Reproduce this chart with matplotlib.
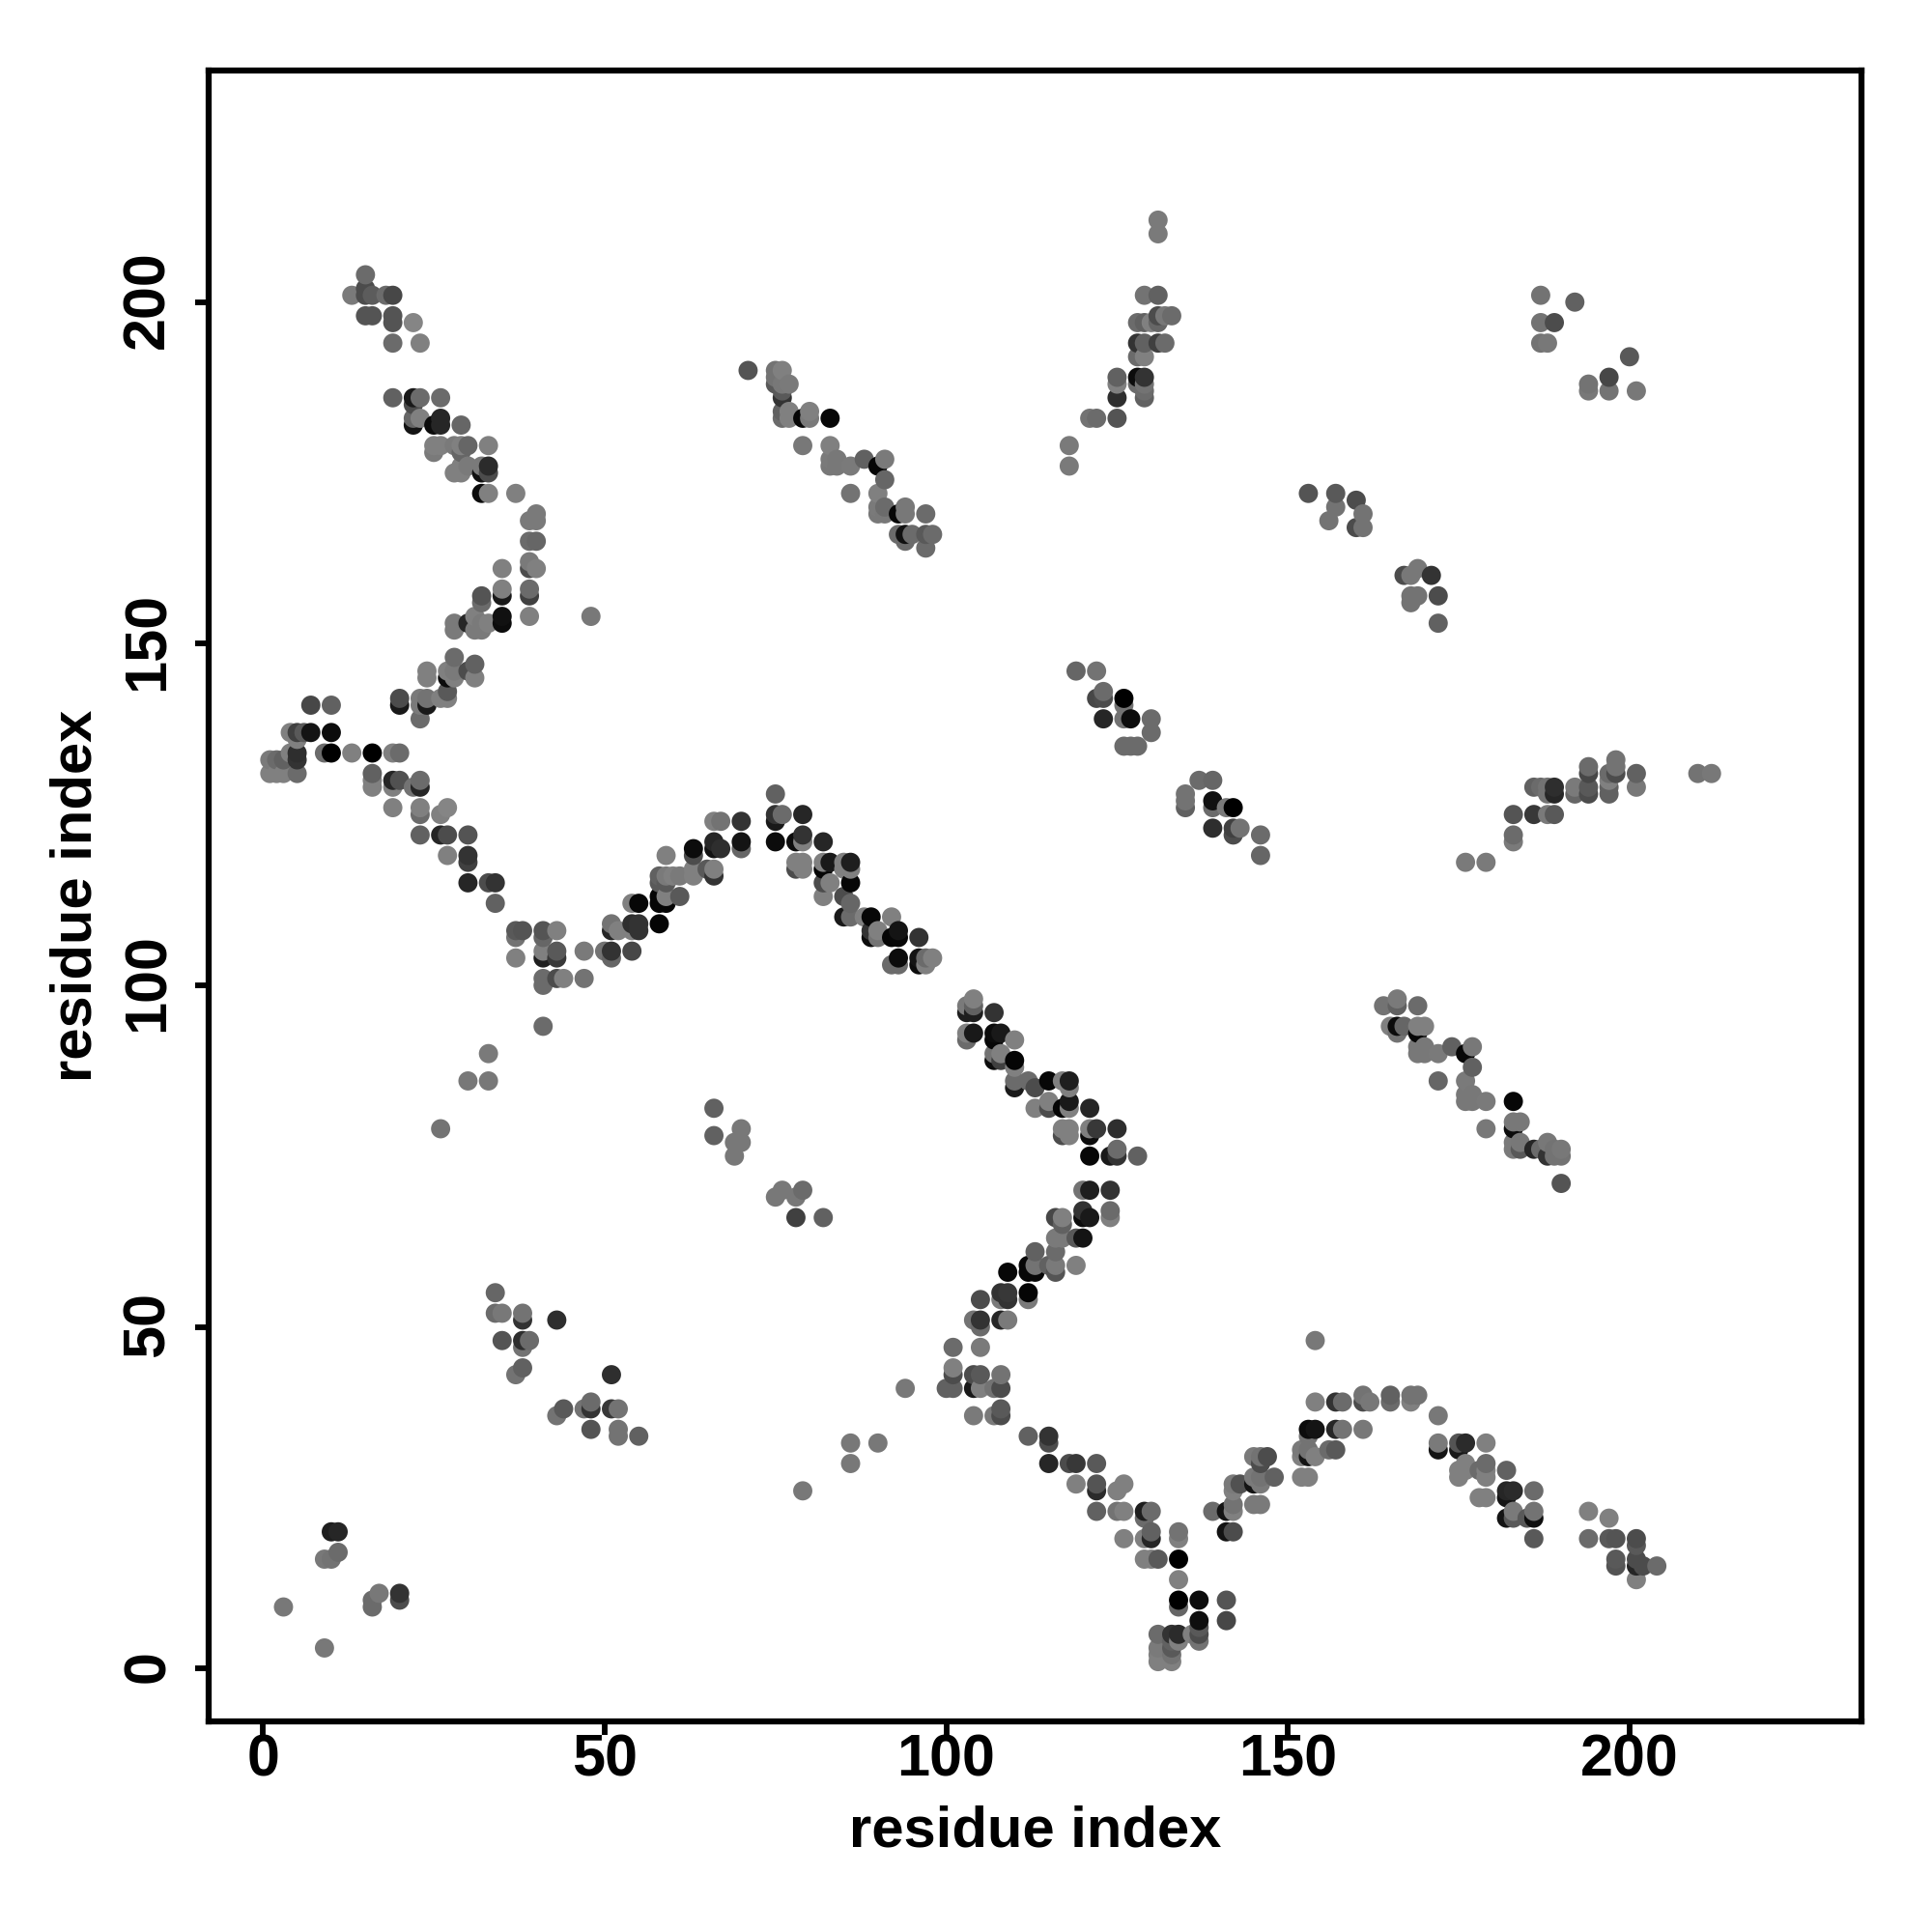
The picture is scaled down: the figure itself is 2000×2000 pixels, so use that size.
import numpy as np
import matplotlib
matplotlib.use("Agg")
import matplotlib.pyplot as plt
from matplotlib.transforms import ScaledTranslation

# (residue x, residue y, grey level), one list per stretch
arm_top_left = [
    (15,204,.42),(13,201,.48),(15,201,.3),(15,202,.3),(16,201,.36),(18,201,.42),(19,201,.28),
    (15,198,.33),(16,198,.33),(19,198,.33),(19,197,.33),(22,197,.52),(19,194,.42),(23,194,.5),
    (19,186,.38),(22,186,.1),(23,186,.42),(26,186,.42),(22,185,.3),(22,183,.4),(23,183,.5),
    (22,182,.08),(25,182,.05),(26,183,.15),(26,182,.15),(29,182,.4),(25,179,.5),(26,179,.5),
    (28,179,.48),(29,179,.5),(30,179,.4),(33,179,.5),(25,178,.48),(29,178,.4),(30,176,.48),
    (29,176,.5),(32,176,.48),(33,176,.17),(28,175,.5),(29,175,.5),(32,175,.07),(33,175,.3),
    (32,172,.05),(33,172,.5),(37,172,.5),(40,169,.48),(39,168,.48),(40,168,.48),(39,165,.42),
    (40,165,.4),(39,162,.48),(35,161,.5),(39,161,.3),(40,161,.5),(35,158,.5),(39,158,.42),
    (35,157,.1),(39,157,.25),(32,157,.33),(32,156,.42),(31,154,.5),(35,154,.07),(39,154,.5),
    (35,153,.05),(30,153,.15),(33,153,.5),(32,153,.48),(28,153,.48),(28,152,.48),(31,152,.48),
    (32,152,.48),(48,154,.47),
]
arm_left = [
    (28,148,.42),(31,147,.38),(30,146,.3),(31,145,.5),(24,146,.5),(24,145,.5),(27,146,.5),
    (28,146,.48),(28,145,.5),(27,145,.05),(20,142,.3),(20,141,.1),(23,142,.48),(24,142,.45),
    (24,141,.1),(23,141,.48),(23,139,.42),(26,142,.5),(27,142,.5),(27,143,.35),(7,141,.28),
    (10,141,.38),(4,137,.5),(5,137,.25),(6,137,.35),(7,137,.08),(10,137,.05),(5,136,.5),
    (4,134,.5),(5,134,.18),(9,134,.42),(10,134,.0),(13,134,.5),(16,134,.0),(19,134,.5),
    (20,134,.42),(1,133,.48),(2,133,.42),(3,133,.38),(5,133,.2),(1,131,.5),(2,131,.5),
    (3,131,.5),(5,131,.42),(16,131,.38),(16,130,.5),(16,129,.5),(19,130,.15),(20,130,.32),
    (19,129,.5),(22,129,.45),(23,129,.15),(23,130,.42),(19,126,.5),(23,126,.5),(23,125,.42),
    (27,126,.52),(26,125,.5),(23,122,.38),(26,122,.15),(27,122,.3),(30,122,.33),(27,119,.5),
    (30,119,.2),(30,118,.25),(30,115,.15),(33,115,.3),(34,115,.2),(34,112,.38),
]
arm_middle = [
    (37,108,.35),(38,108,.33),(41,108,.33),(43,108,.5),(37,107,.45),(41,107,.4),(37,104,.5),
    (41,104,.12),(43,104,.22),(41,105,.5),(43,105,.35),(47,105,.48),(50,105,.45),(51,105,.2),
    (54,105,.28),(51,104,.4),(41,101,.42),(43,101,.3),(44,101,.5),(47,101,.45),(41,100,.42),
    (51,109,.45),(52,108,.5),(51,108,.15),(54,109,.18),(55,109,.2),(55,108,.2),(54,108,.5),
    (54,112,.5),(55,112,.03),(58,112,.02),(58,109,.02),(58,113,.02),(59,112,.02),(59,113,.5),
    (61,113,.35),(58,116,.38),(59,116,.48),(60,116,.5),(61,116,.48),(59,115,.35),(63,117,.5),
    (63,116,.5),(59,119,.5),(63,120,.05),(63,119,.3),(66,121,.15),(66,120,.07),(67,120,.18),
    (70,121,.08),(70,120,.4),(66,124,.5),(67,124,.45),(70,124,.2),(65,117,.35),(66,117,.5),
    (66,116,.2),(58,115,.35),
    (75,128,.38),(75,125,.2),(75,124,.1),(76,125,.42),(79,125,.15),(75,121,.05),(78,121,.05),
    (79,122,.2),(79,121,.5),(82,121,.15),(78,118,.5),(79,118,.5),(82,118,.5),(83,118,.1),
    (85,118,.5),(86,118,.12),(78,117,.3),(79,117,.5),(82,117,.02),(85,117,.5),(86,117,.5),
    (82,115,.3),(83,115,.5),(86,115,.03),(82,113,.5),(85,113,.3),(86,112,.4),(85,110,.1),
    (86,110,.42),(88,110,.5),(89,110,.03),(92,110,.5),(89,108,.2),(90,108,.5),(93,108,.08),
    (89,107,.05),(90,107,.45),(92,107,.02),(93,107,.03),(96,107,.2),(93,104,.05),(96,104,.08),
    (97,104,.42),(98,104,.5),(92,103,.42),(93,103,.42),(96,103,.05),(97,103,.5),
]
arm_centre = [
    (104,98,.5),(104,97,.38),(103,97,.48),(104,96,.12),(103,96,.12),(107,96,.2),(103,93,.5),
    (104,93,.1),(107,93,.05),(108,93,.1),(103,92,.42),(107,92,.03),(110,92,.5),(107,90,.45),
    (108,90,.5),(107,89,.05),(108,89,.25),(110,89,.02),(110,88,.5),(110,86,.42),(112,86,.42),
    (115,86,.03),(117,86,.5),(118,86,.12),(110,85,.1),(113,85,.3),(118,85,.5),(115,83,.5),
    (118,83,.1),(113,82,.5),(115,82,.3),(117,82,.02),(118,82,.5),(121,82,.15),(117,79,.5),
    (118,79,.5),(121,79,.5),(122,79,.22),(125,79,.18),(117,78,.3),(118,78,.5),(121,78,.05),
    (121,75,.03),(124,75,.1),(125,75,.2),(128,75,.38),(125,76,.42),
    (120,70,.45),(121,70,.12),(124,70,.2),(120,67,.2),(124,67,.42),(120,66,.05),(121,66,.1),
    (124,66,.5),(116,66,.28),(117,66,.5),(117,65,.38),(116,63,.48),(117,63,.48),(119,63,.35),
    (120,63,.08),(113,61,.38),(116,61,.42),(113,59,.45),(116,59,.48),(115,59,.38),(119,59,.5),
    (112,59,.03),(109,58,.03),(112,58,.03),(113,58,.03),(116,58,.33),(108,55,.2),(109,55,.22),
    (112,55,.02),(105,54,.3),(108,54,.48),(109,54,.2),(112,54,.48),(104,51,.45),(105,51,.2),
    (108,51,.15),(109,51,.48),(105,50,.42),(101,47,.42),(105,47,.48),(101,44,.5),(101,43,.3),
    (104,43,.3),(105,43,.35),(108,43,.45),(100,41,.38),(101,41,.38),(104,41,.1),(105,41,.5),
    (107,41,.45),(108,41,.3),(104,37,.48),(107,37,.48),(108,37,.3),(108,38,.35),
]
arm_bottom = [
    (112,34,.38),(115,34,.2),(115,33,.3),(115,30,.15),(118,30,.3),(119,30,.22),(122,30,.35),
    (119,27,.5),(122,27,.33),(126,27,.5),(122,26,.17),(125,26,.5),(122,23,.38),(125,23,.45),
    (126,23,.5),(129,23,.12),(130,23,.42),(129,22,.42),(130,20,.38),(134,20,.45),(126,19,.5),
    (129,19,.5),(130,19,.15),(134,19,.5),(129,16,.5),(130,16,.5),(131,16,.35),(134,16,.0),
    (134,13,.5),(134,10,.0),(137,10,.05),(141,10,.33),(134,9,.4),(137,7,.06),(141,7,.28),
    (137,6,.35),(131,5,.42),(133,5,.2),(134,5,.17),(136,5,.5),(137,5,.3),(133,4,.38),(134,4,.5),
    (137,4,.45),(131,3,.48),(133,3,.35),(131,2,.5),(133,2,.45),(131,1,.5),(133,1,.5),
    (139,23,.42),(141,23,.08),(142,23,.5),(142,24,.45),(142,27,.48),(143,27,.32),(142,26,.5),
    (141,20,.08),(142,20,.3),(145,31,.48),(146,31,.45),(147,31,.3),(146,30,.3),(145,28,.48),
    (146,28,.45),(148,28,.38),(145,27,.08),(146,27,.48),(145,24,.48),(146,24,.48),
    (154,39,.5),(157,39,.2),(158,39,.42),(161,40,.45),(161,39,.3),(162,39,.47),(165,40,.38),
    (165,39,.42),(168,40,.45),(169,40,.45),(168,39,.5),(153,35,.05),(154,35,.08),(157,35,.15),
    (158,35,.45),(161,35,.47),(153,34,.45),(152,32,.48),(153,32,.45),(152,31,.5),(153,31,.08),
    (154,31,.5),(156,32,.42),(157,32,.35),(152,28,.5),(153,28,.5),
    (172,37,.47),(172,33,.48),(175,33,.33),(176,33,.17),(179,33,.5),(172,32,.08),(175,32,.1),
    (176,30,.5),(179,30,.42),(175,29,.5),(176,29,.5),(178,29,.42),(179,29,.5),(182,29,.38),
    (175,28,.5),(179,28,.5),(182,26,.15),(183,26,.17),(186,26,.42),(178,25,.5),(179,25,.5),
    (182,25,.08),(183,23,.48),(186,23,.45),(182,22,.08),(183,22,.35),(185,22,.35),(186,22,.06),
    (186,19,.35),(194,23,.5),(197,22,.5),(194,19,.42),(197,19,.35),(198,19,.33),(201,19,.3),
    (201,18,.35),(198,16,.35),(201,16,.3),(198,15,.33),(201,15,.15),(202,15,.3),(204,15,.42),
    (201,13,.5),
]
arm_upper_mid = [
    (71,190,.33),(75,190,.45),(76,190,.5),(75,189,.45),(75,188,.35),(76,188,.47),(77,188,.48),
    (76,186,.2),(76,187,.35),(76,183,.42),(77,183,.5),(76,184,.38),(77,184,.5),(79,183,.03),
    (80,183,.48),(80,184,.5),(83,183,.03),(79,179,.47),(83,179,.5),(83,177,.48),(84,177,.47),
    (83,176,.47),(84,176,.47),(86,176,.48),(88,177,.38),(91,177,.48),(90,176,.03),(91,174,.4),
    (86,172,.45),(90,172,.5),(90,170,.48),(91,170,.42),(90,169,.47),(91,169,.47),(93,169,.03),
    (94,170,.47),(94,169,.47),(97,169,.42),(93,166,.42),(94,166,.07),(95,166,.42),(97,166,.35),
    (98,166,.42),(94,165,.42),(97,164,.42),
]
arm_right_lower = [
    (164,97,.45),(166,98,.48),(166,97,.38),(169,97,.42),(165,94,.5),(166,94,.05),(167,94,.4),
    (166,93,.45),(169,93,.03),(169,94,.5),(170,94,.5),(169,91,.47),(170,91,.47),(174,91,.38),
    (177,91,.47),(169,90,.47),(170,90,.47),(172,90,.48),(176,90,.03),(177,88,.38),(172,86,.4),
    (176,86,.48),(176,84,.47),(177,84,.47),(176,83,.47),(177,83,.47),(179,83,.48),(183,83,.03),
    (183,80,.47),(184,80,.47),(179,79,.47),(183,79,.05),(183,77,.48),(184,77,.47),(183,76,.48),
    (184,76,.35),(186,76,.15),(187,76,.42),(188,77,.47),(190,76,.47),(189,76,.45),(188,75,.2),
    (190,75,.45),(189,75,.45),(190,71,.33),
]
arm_upper_right = [
    (131,212,.48),(131,210,.48),(129,201,.45),(131,201,.38),(131,198,.3),(132,198,.47),
    (133,198,.42),(128,197,.42),(129,197,.38),(130,197,.5),(131,197,.4),(128,194,.2),
    (129,194,.38),(131,194,.25),(132,194,.42),(128,192,.42),(129,192,.5),(125,189,.38),
    (128,189,.05),(129,189,.2),(125,188,.5),(128,188,.42),(129,188,.45),(129,187,.42),
    (125,186,.18),(129,186,.38),(121,183,.45),(122,183,.42),(125,183,.33),(118,179,.48),
    (118,176,.48),
]
arm_mid_right = [
    (119,146,.4),(122,146,.45),(123,143,.42),(122,142,.28),(123,142,.3),(126,142,.0),
    (126,141,.45),(123,139,.15),(126,139,.45),(127,139,.05),(130,139,.42),(130,137,.42),
    (126,135,.42),(127,135,.42),(128,135,.42),(137,130,.42),(139,130,.4),(135,128,.45),
    (135,127,.45),(139,127,.07),(135,126,.38),(139,126,.42),(141,126,.48),(142,126,.0),
    (139,123,.18),(142,123,.25),(143,123,.45),(142,122,.3),(146,122,.42),(146,119,.4),
]
arm_far_right = [
    (176,118,.48),(179,118,.48),(183,122,.42),(183,121,.48),(183,125,.33),(186,125,.22),
    (188,125,.48),(189,125,.35),(186,129,.38),(187,129,.42),(189,129,.18),(188,129,.45),
    (192,129,.48),(189,128,.15),(188,128,.45),(192,128,.4),(194,128,.3),(197,128,.38),
    (194,132,.42),(194,131,.28),(197,131,.42),(198,131,.3),(201,131,.38),(198,133,.45),
    (198,132,.45),(197,130,.5),(194,129,.35),(197,129,.38),(201,129,.47),(210,131,.45),
    (212,131,.47),
]
sparse_blocks = [
    (34,55,.4),(34,52,.42),(35,52,.47),(38,52,.45),(38,51,.2),(43,51,.18),(35,48,.33),
    (38,48,.18),(39,48,.42),(38,47,.45),(38,44,.38),(37,43,.45),(51,43,.18),(44,38,.35),
    (47,38,.45),(48,39,.42),(48,38,.2),(51,38,.22),(52,38,.45),(43,37,.45),(48,35,.33),
    (52,35,.45),(52,34,.45),(55,34,.38),
    (41,94,.42),(33,90,.48),(30,86,.47),(33,86,.47),(26,79,.45),
    (66,82,.38),(66,78,.38),(70,79,.47),(69,77,.47),(70,77,.47),(69,75,.47),(75,69,.47),
    (76,70,.47),(78,69,.47),(79,70,.42),(78,66,.25),(82,66,.38),
    (153,172,.33),(157,172,.35),(156,168,.45),(157,170,.45),(160,171,.3),(161,169,.45),
    (160,167,.3),(161,167,.45),(167,160,.3),(168,160,.47),(169,161,.47),(171,160,.2),
    (168,157,.45),(169,157,.45),(168,156,.45),(172,157,.3),(172,153,.38),
    (187,201,.45),(187,197,.45),(189,197,.3),(187,194,.45),(188,194,.47),(192,200,.38),
    (194,188,.45),(194,187,.47),(197,189,.28),(197,187,.45),(200,192,.35),(201,187,.47),
    (3,9,.47),(9,3,.47),(9,16,.47),(10,20,.12),(11,20,.15),(11,17,.42),(10,16,.45),(16,9,.42),
    (16,10,.42),(17,11,.47),(20,11,.2),(20,10,.3),
    (94,41,.47),(86,33,.47),(90,33,.47),(86,30,.47),(79,26,.47),(154,48,.47),
]
axis_ticks = [0, 50, 100, 150, 200]

contacts = np.array(arm_top_left + arm_left + arm_middle + arm_centre + arm_bottom
                    + arm_upper_mid + arm_right_lower + arm_upper_right + arm_mid_right
                    + arm_far_right + sparse_blocks)
# points stack by x then y, the later one on top
contacts = contacts[np.lexsort((contacts[:, 1], contacts[:, 0]))]

plt.rcParams["font.family"] = ["Liberation Sans", "DejaVu Sans"]
plt.rcParams["font.weight"] = "bold"

fig = plt.figure(figsize=(20, 20), dpi=100)
ax = fig.add_axes([0.108, 0.109, 0.8555, 0.8545])
ax.scatter(contacts[:, 0], contacts[:, 1], s=205, c=contacts[:, 2], cmap="gray",
           vmin=0, vmax=1, linewidths=0, zorder=3)
ax.set_xlim(-7.95, 233.95)
ax.set_ylim(-7.75, 233.9)
ax.set_xticks(axis_ticks)
ax.set_yticks(axis_ticks)
ax.tick_params(axis="x", length=10, width=4.2, labelsize=44, pad=-1)
ax.tick_params(axis="y", length=10, width=4.2, labelsize=44, pad=14)
# rotated labels sit a little low otherwise
lift = ScaledTranslation(0, 2.5 / 100, fig.dpi_scale_trans)
for label in ax.get_yticklabels():
    label.set_rotation(90)
    label.set_va("center")
    label.set_transform(label.get_transform() + lift)
for side in ax.spines.values():
    side.set_linewidth(4.5)
ax.set_xlabel("residue index", fontsize=43, fontweight="bold", labelpad=12)
ax.set_ylabel("residue index", fontsize=43, fontweight="bold", labelpad=14)

fig.savefig("out.png", dpi=100)
